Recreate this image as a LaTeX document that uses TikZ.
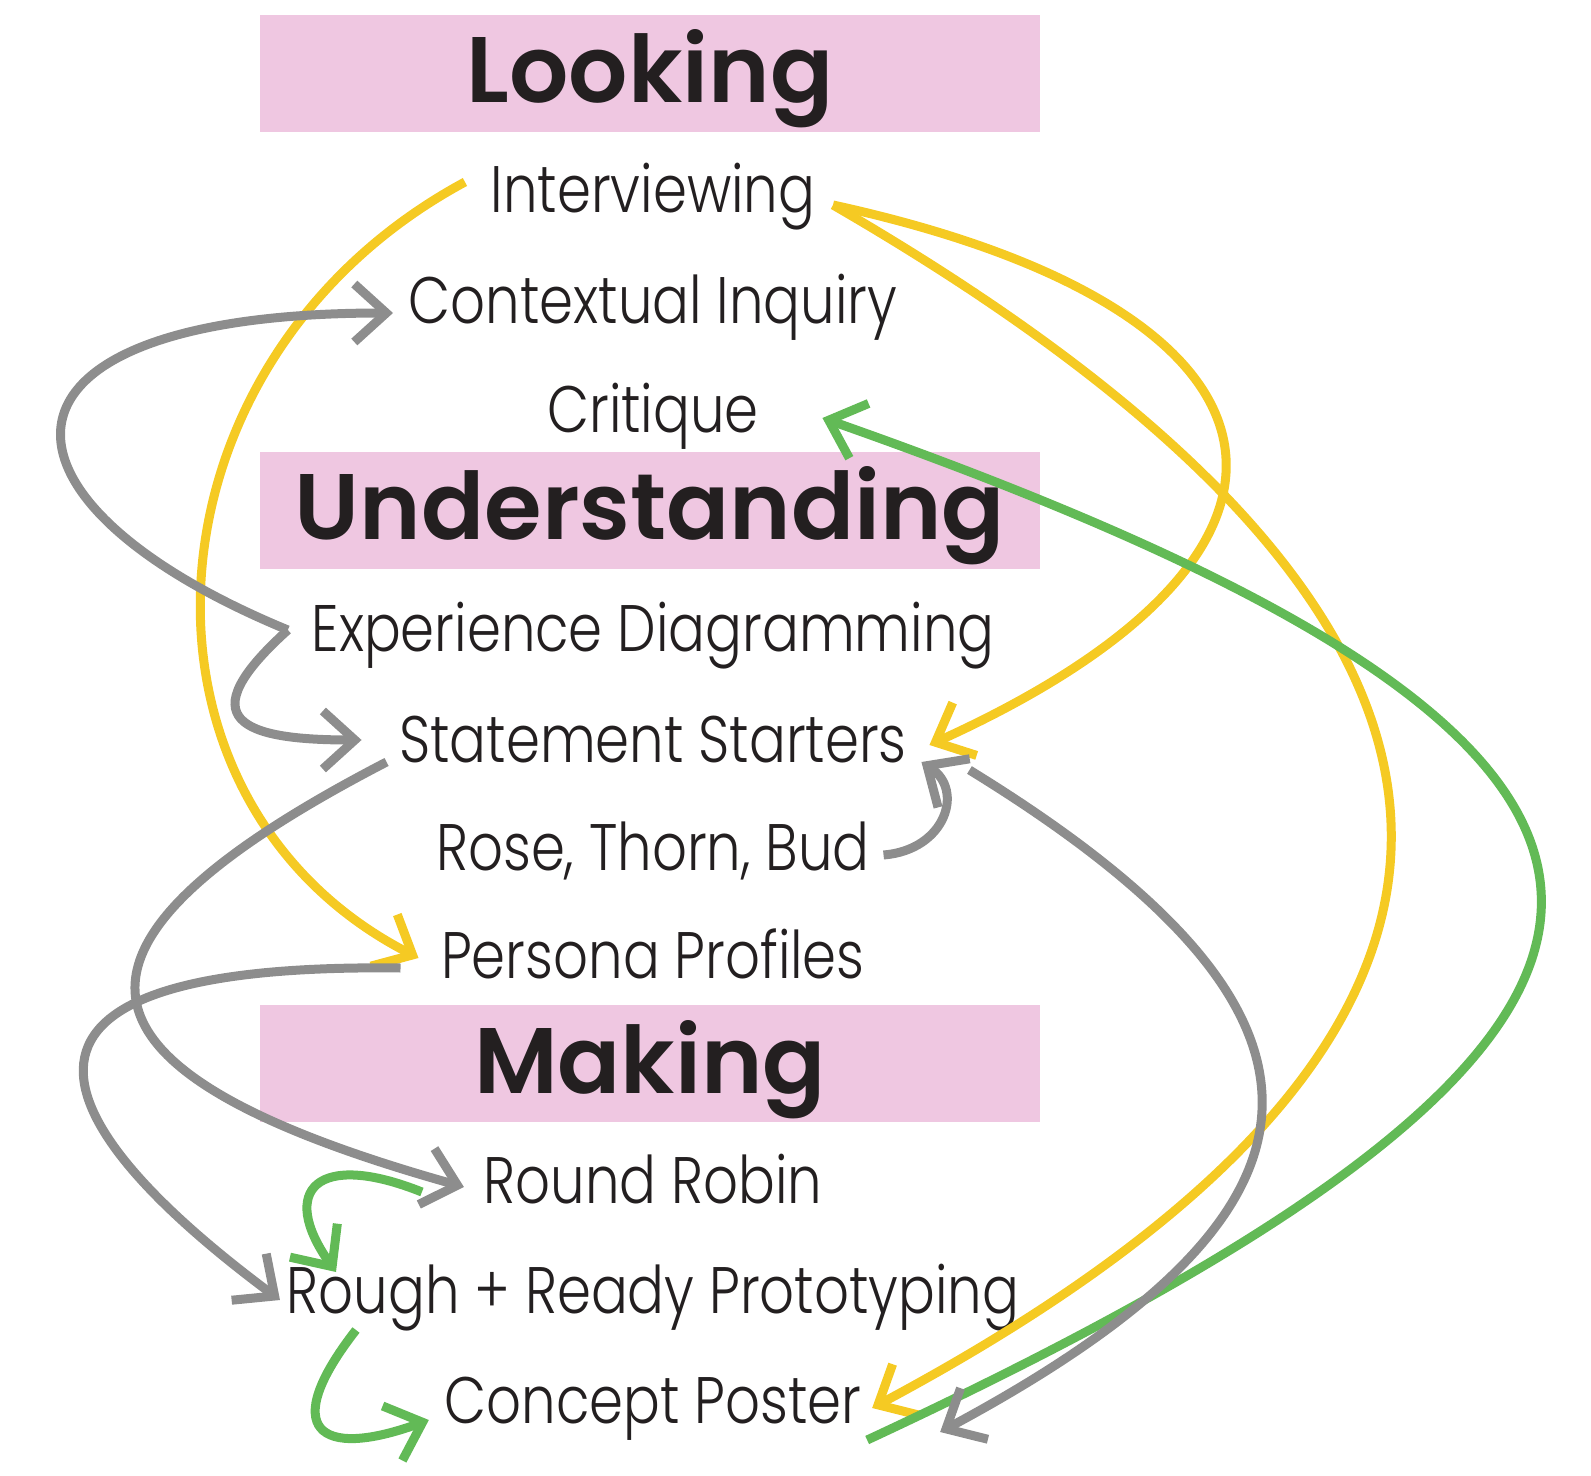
\documentclass[tikz,border=0pt]{standalone}
\usepackage{fontspec}
\IfFontExistsTF{Poppins SemiBold}{\setmainfont{Poppins}[BoldFont={Poppins SemiBold}]}{\setmainfont{Poppins}}
\IfFontExistsTF{Poppins Light}{\newfontfamily\lblfont{Poppins Light}[FakeStretch=0.83]}{\newfontfamily\lblfont{Poppins}[FakeStretch=0.82]}
\usetikzlibrary{arrows.meta}
\definecolor{boxpink}{RGB}{239,199,225}
\definecolor{ink}{RGB}{35,31,32}
\definecolor{ylw}{RGB}{245,202,35}
\definecolor{gry}{RGB}{141,141,141}
\definecolor{grn}{RGB}{98,186,86}
\begin{document}
\begin{tikzpicture}[
	title/.style={fill=boxpink, text=ink, font=\bfseries\fontsize{26.5}{28}\selectfont, minimum width=7.8cm, minimum height=1.17cm, inner sep=0, text height=0.65cm, text depth=0.06cm, anchor=base},
	lbl/.style={text=ink, font=\lblfont\fontsize{18.7}{20}\selectfont, inner sep=0, text height=0.47cm, text depth=0.13cm, anchor=base},
	link/.style={line width=0.9mm, -{Straight Barb[length=3.2mm,width=5.8mm]}},
	yel/.style={link, draw=ylw},
	gr/.style={link, draw=gry},
	gn/.style={link, draw=grn}]
	\useasboundingbox (0,0) rectangle (15.91,-14.76);
	\draw (6.5,-1.03) node[title](look) {Looking};
	\draw (6.5,-5.40) node[title](und) {Understanding};
	\draw (6.5,-10.93) node[title](mak) {Making};
	\draw (6.53,-2.13) node[lbl](int) {Interviewing};
	\draw (6.53,-3.24) node[lbl](ctx) {Contextual Inquiry};
	\draw (6.53,-4.33) node[lbl](crit) {Critique};
	\draw (6.53,-6.52) node[lbl](exp) {Experience Diagramming};
	\draw (6.53,-7.62) node[lbl](stm) {Statement Starters};
	\draw (6.53,-8.70) node[lbl](rtb) {Rose, Thorn, Bud};
	\draw (6.53,-9.78) node[lbl](per) {Persona Profiles};
	\draw (6.53,-12.03) node[lbl](rr) {Round Robin};
	\draw (6.53,-13.13) node[lbl](rrp) {Rough + Ready Prototyping};
	\draw (6.53,-14.23) node[lbl](cp) {Concept Poster};
	\draw[yel] ([xshift=-2.5mm,yshift=1.4mm]int.west) .. controls +(-3.3,-1.78) and +(-3.08,1.58) .. ([xshift=-2.2mm,yshift=0.3mm]per.west);
	\draw[yel] ([xshift=1.7mm,yshift=-0.9mm]int.east) .. controls +(4.8,-1.05) and +(4.3,1.95) .. ([xshift=2.2mm]stm.east);
	\draw[yel] ([xshift=1.7mm,yshift=-0.9mm]int.east) .. controls +(7.44,-4.31) and +(6.89,3.68) .. ([xshift=1mm,yshift=-0.2mm]cp.east);
	\draw[gn] ([xshift=0.5mm,yshift=-3.4mm]cp.east) .. controls +(8.92,4.15) and +(9.62,-3.38) .. ([xshift=6.3mm,yshift=-0.2mm]crit.east);
	\draw[gr] ([xshift=-2.3mm,yshift=0.5mm]exp.west) .. controls +(-3.15,1.3) and +(-4.25,0) .. ([xshift=-1.5mm,yshift=-0.6mm]ctx.west);
	\draw[gr] ([xshift=-2.3mm,yshift=0.5mm]exp.west) .. controls +(-1,-0.9) and +(-1.2,0) .. ([xshift=-3.7mm,yshift=0.5mm]stm.west);
	\draw[gr] ([xshift=-1.2mm,yshift=-1.7mm]stm.west) .. controls +(-3.55,-1.84) and +(-4.13,1.16) .. ([xshift=-1.9mm,yshift=-0.1mm]rr.west);
	\draw[gr] ([xshift=-4mm,yshift=-0.7mm]per.west) .. controls +(-4.8,0.06) and +(-2.02,1.5) .. ([xshift=-0.6mm,yshift=-0.4mm]rrp.west);
	\draw[gr] ([xshift=1.3mm,yshift=-0.2mm]rtb.east) .. controls +(0.62,0.05) and +(0.43,-0.28) .. ([xshift=1.4mm,yshift=-1.7mm]stm.east);
	\draw[gr] ([xshift=6.2mm,yshift=-2.5mm]stm.east) .. controls +(4.02,-2.47) and +(4.14,2.22) .. ([xshift=7.8mm,yshift=-2.6mm]cp.east);
	\draw[gn] ([xshift=-6.1mm,yshift=-0.6mm]rr.west) .. controls +(-1.05,0.42) and +(-0.58,0.82) .. ([xshift=5mm,yshift=2.4mm]rrp.west);
	\draw[gn] ([xshift=7mm,yshift=-3.4mm]rrp.west) .. controls +(-0.78,-1.0) and +(-1.1,-0.4) .. ([xshift=-1.5mm,yshift=-1.4mm]cp.west);
\end{tikzpicture}
\end{document}
